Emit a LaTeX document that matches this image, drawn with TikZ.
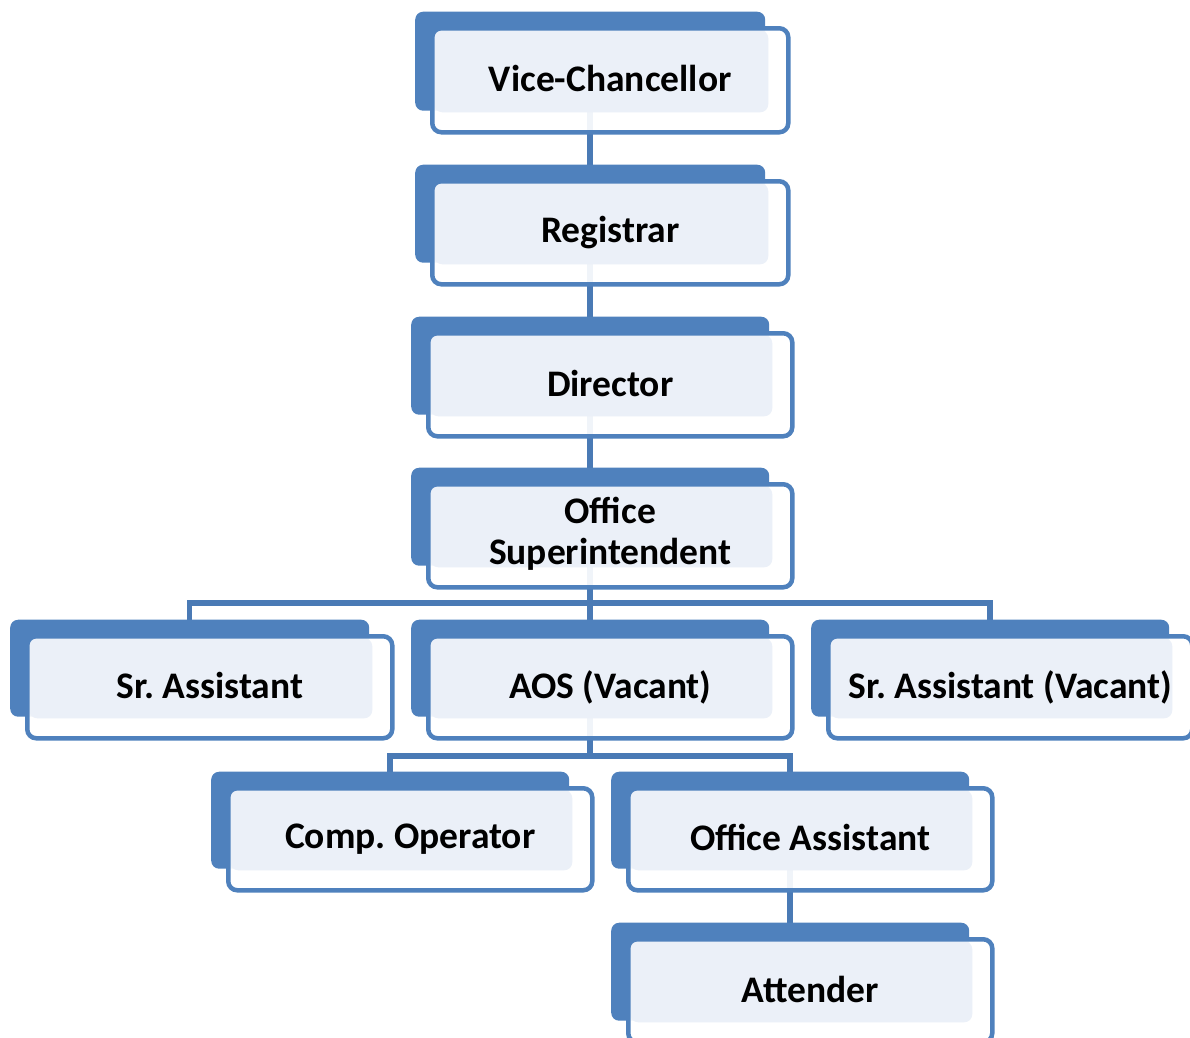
\documentclass[tikz,border=0pt]{standalone}
\usepackage{fontspec}
\setmainfont{Carlito}
\frenchspacing
\usetikzlibrary{backgrounds}
\definecolor{boxblue}{HTML}{4F81BD}
\definecolor{boxlight}{HTML}{EBF0F8}
\definecolor{linkblue}{HTML}{4A7AB5}
\tikzset{
 backbox/.style={fill=boxblue, rounded corners=8pt, inner sep=0pt, anchor=north west},
 frontbox/.style={draw=boxblue, line width=4.5pt, rounded corners=9pt, fill=white, fill opacity=0.92, text opacity=1, inner sep=0pt, anchor=north west, align=center, font=\fontsize{37.5}{41}\selectfont\bfseries, text=black,
   path picture={\fill[boxlight, fill opacity=1, rounded corners=8pt] ([xshift=2pt,yshift=-2pt]path picture bounding box.north west) rectangle ([xshift=-20pt,yshift=20pt]path picture bounding box.south east);}},
 link/.style={draw=linkblue, line width=5.5pt}
}
\newcommand\orgbox[6]{%
  \node[backbox, minimum width={(#4-6)*1pt}, minimum height={(#5-5)*1pt}] (#1b) at (#2-15,#3-14.5) {};
  \node[frontbox, minimum width={#4*1pt}, minimum height={#5*1pt}] (#1) at (#2,#3) {\raisebox{3pt}{#6}};
}
\begin{document}
\begin{tikzpicture}[x=1pt,y=-1pt]
\useasboundingbox (0,0) rectangle (1190,1037);
\orgbox{vc}{430}{26}{356}{104}{Vice-Chancellor}
\orgbox{reg}{430}{179}{356}{103}{Registrar}
\orgbox{dir}{426}{331}{364}{103}{Director}
\orgbox{os}{426}{482}{364}{103}{\begin{tabular}{@{}c@{}}Office\\Superintendent\end{tabular}}
\orgbox{sra}{25}{634}{365}{102}{Sr. Assistant}
\orgbox{aos}{426}{634}{364}{102}{AOS (Vacant)}
\orgbox{srav}{826}{634}{364}{102}{Sr. Assistant (Vacant)}
\orgbox{comp}{226}{786}{364}{102}{Comp. Operator}
\orgbox{oa}{626}{786}{364}{102}{Office Assistant}
\orgbox{att}{626}{937}{364}{103}{Attender}
\coordinate (bar1) at (590,603);
\coordinate (bar2) at (590,756);
\begin{scope}[on background layer]
\draw[link] (vcb.center) -- (regb.center);
\draw[link] (regb.center) -- (dirb.center);
\draw[link] (dirb.center) -- (osb.center);
\draw[link] (osb.center) -- (aosb.center);
\draw[link] (srab.center) -- (srab.center |- bar1) -- (sravb.center |- bar1) -- (sravb.center);
\draw[link] (aosb.center) -- (aosb.center |- bar2);
\draw[link] (compb.center) -- (compb.center |- bar2) -- (oab.center |- bar2) -- (oab.center);
\draw[link] (oab.center) -- (attb.center);
\end{scope}
\end{tikzpicture}
\end{document}
